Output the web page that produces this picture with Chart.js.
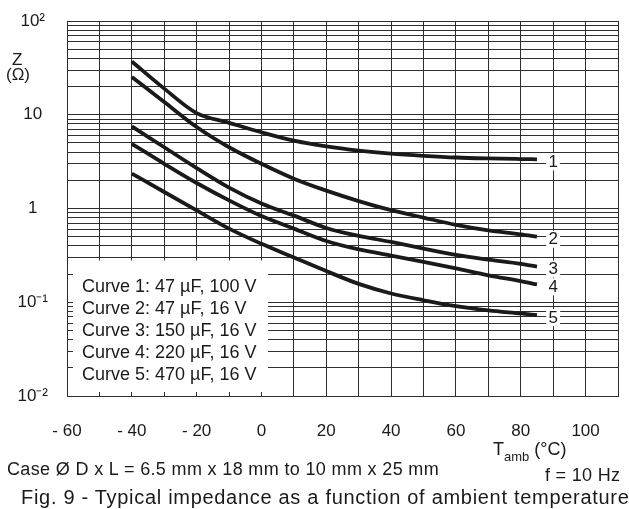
<!DOCTYPE html>
<html>
<head>
<meta charset="utf-8">
<script src="https://cdn.jsdelivr.net/npm/chart.js@4.4.0/dist/chart.umd.min.js"></script>
<style>
  html, body { margin: 0; padding: 0; background: #fff; }
  #wrap { position: relative; width: 629px; height: 509px; font-family: "Liberation Sans", Arial, sans-serif; color: #1a1a1a; }
  #c { position: absolute; left: 0; top: 0; }
  .t { position: absolute; white-space: nowrap; line-height: 1; }
  .legend { position: absolute; left: 82px; top: 275px; font-size: 18px; line-height: 22px; white-space: nowrap; }
  sub { font-size: 13px; vertical-align: baseline; position: relative; top: 6px; }
</style>
</head>
<body>
<div id="wrap">
  <canvas id="c" width="629" height="509"></canvas>
  <div class="t" style="left:12px;top:51px;font-size:17px;">Z</div>
  <div class="t" style="left:6px;top:66px;font-size:17px;">(Ω)</div>
  <div class="legend" id="legend"></div>
  <div class="t" style="left:493px;top:440px;font-size:18px;">T<sub>amb</sub> (°C)</div>
  <div class="t" style="left:7px;top:460px;font-size:18px;letter-spacing:0.35px;">Case Ø D x L = 6.5 mm x 18 mm to 10 mm x 25 mm</div>
  <div class="t" style="left:545px;top:466px;font-size:18px;letter-spacing:0.3px;">f = 10 Hz</div>
  <div class="t" style="left:21px;top:487px;font-size:20px;letter-spacing:0.7px;">Fig. 9 - Typical impedance as a function of ambient temperature</div>
</div>
<script>
// temperatures (°C) where the curves were read
const temps = [-40, -30, -20, -10, 0, 10, 20, 30, 40, 50, 60, 70, 80, 85];

// impedance Z (ohm) per curve
const curve1 = [37, 19, 10.4, 8.2, 6.5, 5.3, 4.6, 4.15, 3.85, 3.65, 3.5, 3.42, 3.37, 3.35];
const curve2 = [25.3, 13.7, 7.4, 4.5, 3.0, 2.08, 1.55, 1.2, 0.96, 0.8, 0.67, 0.585, 0.53, 0.5];
const curve3 = [7.5, 4.5, 2.7, 1.67, 1.13, 0.84, 0.62, 0.51, 0.44, 0.374, 0.32, 0.285, 0.257, 0.24];
const curve4 = [4.9, 3.0, 1.87, 1.22, 0.83, 0.61, 0.45, 0.366, 0.315, 0.27, 0.23, 0.194, 0.168, 0.155];
const curve5 = [2.36, 1.5, 0.955, 0.61, 0.42, 0.30, 0.215, 0.157, 0.124, 0.105, 0.091, 0.082, 0.076, 0.073];

const curveNames = ["1", "2", "3", "4", "5"];
const legendLines = [
  "Curve 1: 47 µF, 100 V",
  "Curve 2: 47 µF, 16 V",
  "Curve 3: 150 µF, 16 V",
  "Curve 4: 220 µF, 16 V",
  "Curve 5: 470 µF, 16 V"
];

// axis ticks
const xTicksLabelled = [-60, -40, -20, 0, 20, 40, 60, 80, 100];
const yDecades = [0.01, 0.1, 1, 10, 100];
const yDecadeLabels = ["10⁻²", "10⁻¹", "1", "10", "10²"];

document.getElementById("legend").innerHTML = legendLines.map(s => "<div>" + s + "</div>").join("");

const series = [curve1, curve2, curve3, curve4, curve5];

// white box behind the legend text, and the curve numbers at the right
const overlay = {
  id: "overlay",
  beforeDatasetsDraw(chart) {
    const { ctx, scales: { x, y } } = chart;
    ctx.save();
    ctx.fillStyle = "#fff";
    const left = x.getPixelForValue(-60) + 6;
    const right = x.getPixelForValue(2);
    const top = y.getPixelForValue(0.3) + 3;
    const bottom = y.getPixelForValue(0.01) - 4;
    ctx.fillRect(left, top, right - left, bottom - top);
    ctx.restore();
  },
  afterDatasetsDraw(chart) {
    const { ctx, scales: { x, y } } = chart;
    ctx.save();
    ctx.font = "17px 'Liberation Sans', Arial, sans-serif";
    ctx.textAlign = "center";
    ctx.textBaseline = "middle";
    const px = x.getPixelForValue(90);
    series.forEach((s, i) => {
      const py = y.getPixelForValue(s[s.length - 1]) + 2;
      ctx.fillStyle = "#fff";
      ctx.fillRect(px - 7, py - 8, 14, 17);
      ctx.fillStyle = "#1a1a1a";
      ctx.fillText(curveNames[i], px, py + 1);
    });
    ctx.restore();
  }
};

// labels may hang outside the plot, don't let them shrink it
function noOverhang(scale) {
  scale.paddingLeft = 0;
  scale.paddingRight = 0;
  scale.paddingTop = 0;
  scale.paddingBottom = 0;
}

new Chart(document.getElementById("c"), {
  type: "line",
  data: {
    datasets: series.map((s, i) => ({
      label: "Curve " + curveNames[i],
      data: temps.map((t, k) => ({ x: t, y: s[k] })),
      borderColor: "#1a1a1a",
      borderWidth: 3.8,
      pointRadius: 0,
      cubicInterpolationMode: "monotone",
      fill: false
    }))
  },
  options: {
    responsive: false,
    animation: false,
    layout: { padding: { left: 0, top: 21, right: 11, bottom: 0 } },
    plugins: { legend: { display: false }, tooltip: { enabled: false } },
    scales: {
      x: {
        type: "linear",
        min: -60,
        max: 110,
        afterFit(scale) { scale.height = 113; noOverhang(scale); },
        grid: { color: "#2e2e2e", lineWidth: 1, drawTicks: false },
        border: { color: "#2e2e2e", width: 1 },
        ticks: {
          stepSize: 10,
          padding: 25,
          color: "#1a1a1a",
          font: { family: "'Liberation Sans', Arial, sans-serif", size: 17 },
          maxRotation: 0,
          autoSkip: false,
          callback: v => xTicksLabelled.includes(v) ? (v < 0 ? "- " + Math.abs(v) : String(v)) : ""
        }
      },
      y: {
        type: "logarithmic",
        min: 0.01,
        max: 100,
        afterFit(scale) { scale.width = 67; noOverhang(scale); },
        afterBuildTicks(scale) {
          const ticks = [];
          yDecades.forEach((d, i) => {
            if (i < yDecades.length - 1) {
              for (let m = 1; m <= 9; m++) ticks.push({ value: +(d * m).toPrecision(3) });
            } else {
              ticks.push({ value: d });
            }
          });
          scale.ticks = ticks;
        },
        grid: { color: "#2e2e2e", lineWidth: 1, drawTicks: false },
        border: { color: "#2e2e2e", width: 1 },
        ticks: {
          padding: 19,
          crossAlign: "center",
          color: "#1a1a1a",
          font: { family: "'Liberation Sans', Arial, sans-serif", size: 17 },
          autoSkip: false,
          callback: v => {
            const i = yDecades.findIndex(d => Math.abs(d - v) < d * 1e-6);
            return i >= 0 ? yDecadeLabels[i] : "";
          }
        }
      }
    }
  },
  plugins: [overlay]
});
</script>
</body>
</html>
